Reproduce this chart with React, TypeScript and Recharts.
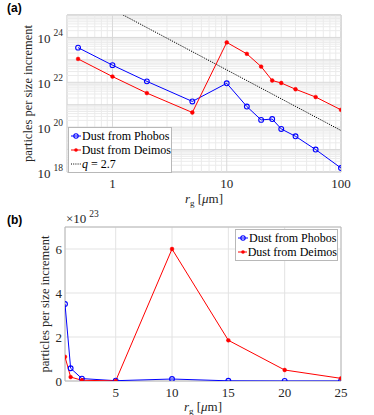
import React from 'react';
import { LineChart, Line, XAxis, YAxis, CartesianGrid, ReferenceLine, ReferenceArea } from 'recharts';

// grain radius in micrometres
const radius = [0.5, 1, 2, 5, 10, 15, 20, 25, 30, 40, 60, 100];
// particles per size increment
const phobos = [3.5e23, 5.8e22, 1.1e22, 1.4e21, 9e21, 8.3e20, 2.1e20, 2.3e20, 8.3e19, 3.9e19, 1e19, 1.5e18];
const deimos = [1.1e23, 1.8e22, 3.3e21, 4.5e20, 6.0e23, 1.85e23, 5e22, 1.2e22, 9.3e21, 4.9e21, 2.2e21, 5.9e20];
// q = 2.7 power law, end points
const qRadius = [1.24, 100];
const qValue = [1e25, 7.1e19];
// panel (b) only shows radii up to 25 um
const linearMaxRadius = 25;

const xTicksA = [1, 10, 100];
const yTicksA = [1e18, 1e20, 1e22, 1e24];
const xTicksB = [5, 10, 15, 20, 25];
const yTicksB = [0, 2e23, 4e23, 6e23];

const seriesNames = ['Dust from Phobos', 'Dust from Deimos', 'q = 2.7'];

const FONT = "'Liberation Serif', 'Times New Roman', 'DejaVu Serif', serif";
const SANS = "'Liberation Sans', Arial, sans-serif";
const TEXT = '#262626';
const BOX = '#b8b8b8';
const BLUE = '#0000ff';
const RED = '#ff0000';

const tableA = radius.map((r, i) => ({ r, phobos: phobos[i], deimos: deimos[i] }));
const tableB = tableA.filter((d) => d.r <= linearMaxRadius);
const qTable = qRadius.map((r, i) => ({ r, q: qValue[i] }));

// log grid lines (minor + major)
const xMajorA = [1, 10, 100];
const xMinorA: number[] = [];
[0.1, 1, 10].forEach((d) => {
  for (let k = 2; k <= 9; k++) {
    const v = +(k * d).toPrecision(3);
    if (v >= 0.4 && v < 100) xMinorA.push(v);
  }
});
const yMajorA: number[] = [];
const yMinorA: number[] = [];
for (let e = 18; e <= 25; e++) {
  yMajorA.push(Math.pow(10, e));
  if (e < 25) for (let k = 2; k <= 9; k++) yMinorA.push(k * Math.pow(10, e));
}

const BlueDot = { r: 2.4, stroke: BLUE, strokeWidth: 1.1, fill: 'none' };
const RedDot = { r: 1.9, stroke: RED, strokeWidth: 0.5, fill: RED };

const PlainXTick = (props: any) => {
  const { x, y, payload } = props;
  return (
    <text x={x} y={y + 16} textAnchor="middle" style={{ fontFamily: FONT }} fontSize={13} fill={TEXT}>
      {payload.value}
    </text>
  );
};

const PowYTick = (props: any) => {
  const { x, y, payload } = props;
  const exp = Math.round(Math.log10(payload.value));
  return (
    <text x={x - 4} y={y + 6} textAnchor="end" style={{ fontFamily: FONT }} fontSize={13} fill={TEXT}>
      10
      <tspan dx={3} dy={-7} fontSize={9.5}>
        {exp}
      </tspan>
    </text>
  );
};

const ScaledYTick = (props: any) => {
  const { x, y, payload } = props;
  return (
    <text x={x - 3} y={y + 5} textAnchor="end" style={{ fontFamily: FONT }} fontSize={13} fill={TEXT}>
      {Math.round(payload.value / 1e23)}
    </text>
  );
};

const XTitle = (dy: number) => (props: any) => {
  const vb = props.viewBox;
  return (
    <text x={vb.x + vb.width / 2} y={vb.y + dy} textAnchor="middle" style={{ fontFamily: FONT }} fontSize={13} fill={TEXT}>
      <tspan fontStyle="italic">r</tspan>
      <tspan dy={3} fontSize={9}>g</tspan>
      <tspan dy={-3}> [</tspan>
      <tspan fontStyle="italic">μ</tspan>
      <tspan>m]</tspan>
    </text>
  );
};

const YTitle = (cx: number) => (props: any) => {
  const vb = props.viewBox;
  const cy = vb.y + vb.height / 2;
  return (
    <text
      x={cx}
      y={cy}
      transform={`rotate(-90 ${cx} ${cy})`}
      textAnchor="middle"
      dominantBaseline="central"
      style={{ fontFamily: FONT }}
      fontSize={12.5}
      fill={TEXT}
    >
      particles per size increment
    </text>
  );
};

function LegendBox({ left, top, width, withQ }: { left: number; top: number; width: number; withQ: boolean }) {
  const rows = withQ ? seriesNames : seriesNames.slice(0, 2);
  return (
    <div
      style={{
        position: 'absolute',
        left,
        top,
        width,
        background: '#fff',
        border: `1px solid ${BOX}`,
        fontFamily: FONT,
        fontSize: 12,
        color: '#000',
        padding: '1px 0 1px 2px',
        boxSizing: 'border-box',
      }}
    >
      {rows.map((name, i) => (
        <div key={name} style={{ display: 'flex', alignItems: 'center', height: 14, whiteSpace: 'nowrap' }}>
          <svg width={10} height={10} style={{ marginRight: 1 }}>
            {i === 0 && (
              <>
                <line x1={0} y1={5} x2={10} y2={5} stroke={BLUE} strokeWidth={1} />
                <circle cx={5} cy={5} r={2.2} stroke={BLUE} strokeWidth={1.1} fill="none" />
              </>
            )}
            {i === 1 && (
              <>
                <line x1={0} y1={5} x2={10} y2={5} stroke={RED} strokeWidth={1} />
                <circle cx={5} cy={5} r={1.8} fill={RED} />
              </>
            )}
            {i === 2 && <line x1={0} y1={5} x2={10} y2={5} stroke="#000" strokeWidth={1} strokeDasharray="1 1.2" />}
          </svg>
          {i === 2 ? (
            <span>
              <i>q</i> = 2.7
            </span>
          ) : (
            <span>{name}</span>
          )}
        </div>
      ))}
    </div>
  );
}

export default function App() {
  return (
    <div style={{ position: 'absolute', left: 0, top: 0, width: 374, height: 415, background: '#fff' }}>
      {/* panel (a) */}
      <div style={{ position: 'absolute', left: 0, top: 0 }}>
        <LineChart width={374} height={210} data={tableA} margin={{ top: 15, right: 33, bottom: 0, left: 0 }}>
          <XAxis
            dataKey="r"
            type="number"
            scale="log"
            domain={[0.4, 100]}
            allowDataOverflow
            ticks={xTicksA}
            tick={<PlainXTick />}
            tickLine={false}
            tickSize={0}
            tickMargin={0}
            axisLine={false}
            height={38}
            label={XTitle(31)}
          />
          <YAxis
            type="number"
            scale="log"
            domain={[1e18, 1e25]}
            allowDataOverflow
            ticks={yTicksA}
            tick={<PowYTick />}
            tickLine={false}
            tickSize={0}
            tickMargin={0}
            axisLine={false}
            width={67}
            label={YTitle(28)}
          />
          {yMinorA.map((v) => (
            <ReferenceLine key={'ym' + v} y={v} stroke="#ebebeb" strokeWidth={1} />
          ))}
          {xMinorA.map((v) => (
            <ReferenceLine key={'xm' + v} x={v} stroke="#ebebeb" strokeWidth={1} />
          ))}
          {yMajorA.map((v) => (
            <ReferenceLine key={'yM' + v} y={v} stroke="#d9d9d9" strokeWidth={1} />
          ))}
          {xMajorA.map((v) => (
            <ReferenceLine key={'xM' + v} x={v} stroke="#d9d9d9" strokeWidth={1} />
          ))}
          <ReferenceArea x1={0.4} x2={100} y1={1e18} y2={1e25} fill="none" stroke={BOX} strokeWidth={1} />
          <Line
            data={qTable}
            dataKey="q"
            stroke="#000"
            strokeWidth={1}
            strokeDasharray="1.2 1.2"
            dot={false}
            isAnimationActive={false}
          />
          <Line dataKey="phobos" stroke={BLUE} strokeWidth={1} dot={BlueDot} isAnimationActive={false} />
          <Line dataKey="deimos" stroke={RED} strokeWidth={1} dot={RedDot} isAnimationActive={false} />
        </LineChart>
        <div style={{ position: 'absolute', left: 7, top: 1, fontFamily: SANS, fontWeight: 'bold', fontSize: 12 }}>(a)</div>
        <LegendBox left={68} top={127} width={104} withQ />
      </div>

      {/* panel (b) */}
      <div style={{ position: 'absolute', left: 0, top: 210 }}>
        <LineChart width={374} height={205} data={tableB} margin={{ top: 17, right: 33, bottom: 0, left: 0 }}>
          <CartesianGrid stroke="#e3e3e3" strokeWidth={1} />
          <XAxis
            dataKey="r"
            type="number"
            domain={[0.5, 25]}
            allowDataOverflow
            ticks={xTicksB}
            tick={<PlainXTick />}
            tickLine={false}
            tickSize={0}
            tickMargin={0}
            axisLine={false}
            height={34}
            label={XTitle(30)}
          />
          <YAxis
            type="number"
            domain={[0, 7e23]}
            allowDataOverflow
            ticks={yTicksB}
            tick={<ScaledYTick />}
            tickLine={false}
            tickSize={0}
            tickMargin={0}
            axisLine={false}
            width={65}
            label={YTitle(45)}
          />
          <ReferenceArea x1={0.5} x2={25} y1={0} y2={7e23} fill="none" stroke={BOX} strokeWidth={1} />
          <Line dataKey="phobos" stroke={BLUE} strokeWidth={1} dot={BlueDot} isAnimationActive={false} />
          <Line dataKey="deimos" stroke={RED} strokeWidth={1} dot={RedDot} isAnimationActive={false} />
        </LineChart>
        <div style={{ position: 'absolute', left: 7, top: 3, fontFamily: SANS, fontWeight: 'bold', fontSize: 12 }}>(b)</div>
        <div style={{ position: 'absolute', left: 66, top: 1, fontFamily: FONT, fontSize: 13, color: TEXT, whiteSpace: 'nowrap' }}>
          ×10
          <span style={{ fontSize: 9.5, position: 'relative', top: -6, marginLeft: 3 }}>23</span>
        </div>
        <LegendBox left={235} top={19} width={103} withQ={false} />
      </div>
    </div>
  );
}
